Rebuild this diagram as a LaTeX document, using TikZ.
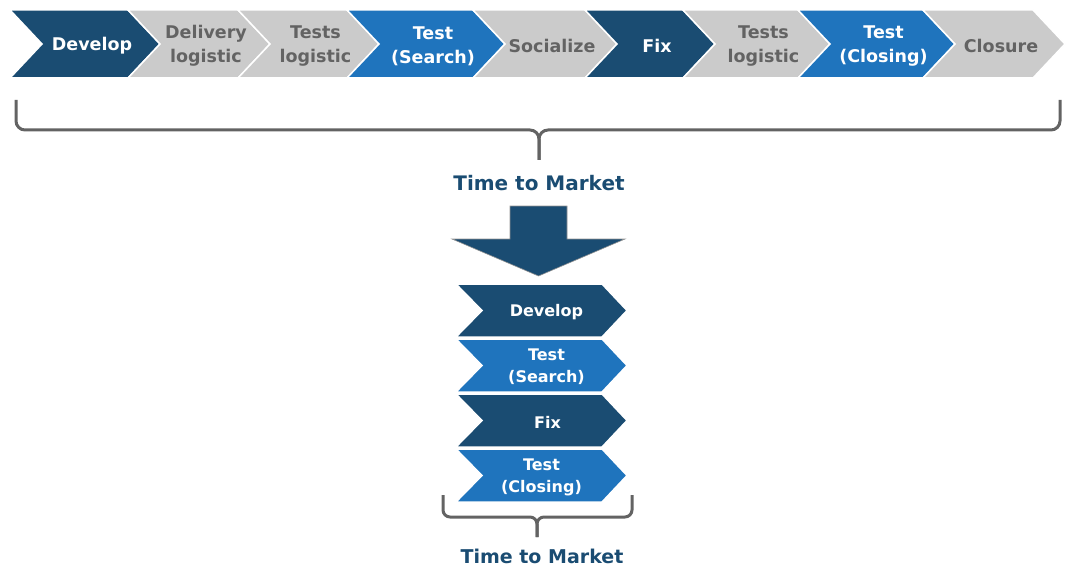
\documentclass[tikz,border=0pt]{standalone}
\usepackage{fontspec}
\setmainfont{DejaVu Sans}

\definecolor{navy}{HTML}{1A4C72}
\definecolor{azure}{HTML}{1F74BD}
\definecolor{lightgrey}{HTML}{CBCBCB}
\definecolor{darkgrey}{HTML}{636363}

\tikzset{
  stage/.style={font=\bfseries\fontsize{17.5}{24}\selectfont, align=center, inner sep=0pt},
  ministage/.style={font=\bfseries\fontsize{16}{22}\selectfont, align=center, inner sep=0pt, text=white},
  chevron/.style={draw=white, line width=1.5pt},
  brace/.style={draw=darkgrey, line width=3pt, rounded corners=9pt},
  ttm/.style={font=\bfseries\fontsize{20}{24}\selectfont, text=navy, inner sep=0pt}
}

\begin{document}
\begin{tikzpicture}[x=1pt, y=-1pt]
\useasboundingbox (0,0) rectangle (1079,575);

% long process
\foreach \xa/\xb/\fc/\tc/\txt/\nm in {10/128/navy/white/Develop/dev,
    128/238/lightgrey/darkgrey/{Delivery\\logistic}/delivery,
    238/347/lightgrey/darkgrey/{Tests\\logistic}/testlog,
    347/473/azure/white/{Test\\(Search)}/tsearch,
    473/585/lightgrey/darkgrey/Socialize/social,
    585/683/navy/white/Fix/fix,
    683/798/lightgrey/darkgrey/{Tests\\logistic}/testlogb,
    798/923/azure/white/{Test\\(Closing)}/tclosing,
    923/1033/lightgrey/darkgrey/Closure/closure} {
  \filldraw[chevron, fill=\fc] (\xa,10) -- (\xb,10) -- (\xb+32,44) -- (\xb,78) -- (\xa,78) -- (\xa+32,44) -- cycle;
  \node[stage, text=\tc] (\nm) at ({(\xa+\xb)/2+23},46) {\txt};
}

\draw[brace] (16,100) -- (16,130) -- (539,130) -- (539,160);
\draw[brace] (1060,100) -- (1060,130) -- (539,130) -- (539,160);
\node[ttm] (ttmlong) at (539,183) {Time to Market};

% reduction arrow
\filldraw[fill=navy, draw=darkgrey!70, line width=0.6pt] (510,206) -- (567,206) -- (567,239) -- (625,239) -- (538.5,276) -- (452,239) -- (510,239) -- cycle;

% short process
\foreach \ya/\fc/\txt/\nm/\dx in {284/navy/Develop/sdev/5,
    339/azure/{Test\\(Search)}/ssearch/5,
    394/navy/Fix/sfix/6,
    449/azure/{Test\\(Closing)}/sclosing/0} {
  \filldraw[chevron, fill=\fc] (456,\ya) -- (602,\ya) -- (627,\ya+26.5) -- (602,\ya+53) -- (456,\ya+53) -- (482,\ya+26.5) -- cycle;
  \node[ministage] (\nm) at (541.5+\dx,\ya+28) {\txt};
}

\draw[brace, rounded corners=7pt] (443,495) -- (443,517) -- (537,517) -- (537,537);
\draw[brace, rounded corners=7pt] (632,495) -- (632,517) -- (537,517) -- (537,537);
\node[ttm, font=\bfseries\fontsize{19}{24}\selectfont] (ttmshort) at (542,556) {Time to Market};

\end{tikzpicture}
\end{document}
